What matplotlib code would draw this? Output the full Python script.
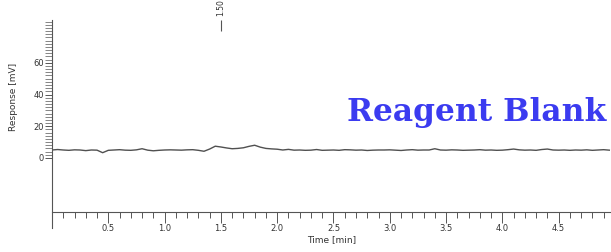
import numpy as np
import matplotlib
matplotlib.use('Agg')
import matplotlib.pyplot as plt
from matplotlib.ticker import MultipleLocator, FixedLocator

# chromatogram trace (0.05 min steps)
time_min = np.arange(0, 100) * 0.05
response_mv = [
    5.0, 5.3, 5.0, 4.8, 5.1, 5.0, 4.6, 5.0, 4.9, 3.3,
    4.8, 5.0, 5.2, 4.9, 4.8, 5.1, 5.8, 4.9, 4.5, 4.8,
    5.0, 5.1, 5.0, 4.9, 5.1, 5.2, 4.8, 4.2, 5.6, 7.4,
    6.9, 6.3, 5.8, 6.0, 6.4, 7.3, 8.0, 6.8, 6.0, 5.7,
    5.5, 5.0, 5.4, 4.9, 5.0, 4.8, 4.9, 5.3, 4.8, 4.9,
    5.0, 4.8, 5.2, 5.1, 4.9, 5.0, 4.7, 4.9, 5.0, 5.0,
    5.1, 4.9, 4.7, 5.0, 5.2, 4.9, 5.0, 5.0, 5.8, 5.0,
    4.9, 5.1, 5.0, 4.8, 4.9, 5.0, 5.2, 4.9, 5.0, 4.8,
    4.9, 5.2, 5.6, 5.1, 4.9, 5.0, 4.8, 5.3, 5.6, 5.0,
    4.9, 5.0, 4.8, 5.0, 4.9, 5.1, 4.8, 5.0, 5.2, 4.9,
]
peak_times = [1.50]
peak_labels = ['1.50']
x_ticks = [0.5, 1.0, 1.5, 2.0, 2.5, 3.0, 3.5, 4.0, 4.5]
y_ticks = [0, 20, 40, 60]

W, H = 611, 252
fig = plt.figure(figsize=(W / 100, H / 100), dpi=100)
# axes box in pixels: left 52, right 611, top 20, bottom 228
ax = fig.add_axes([52 / W, 1 - 228 / H, (611 - 52) / W, (228 - 20) / H])
ax.set_xlim(0, 4.965)
ax.set_ylim(-44.2, 87)
ax.patch.set_alpha(0)

grey = '#555555'
ax.plot(time_min, response_mv, color='#505050', lw=1.0)

# peak marker
ax.vlines(peak_times, 80, 87, color=grey, lw=0.8)
for t, lab in zip(peak_times, peak_labels):
    ax.annotate(lab, (t, 87), xytext=(0, 3), textcoords='offset points',
                rotation=90, ha='center', va='bottom', fontsize=5.5, color='#333333')

for s in ['top', 'right']:
    ax.spines[s].set_visible(False)
ax.spines['left'].set_color(grey)
ax.spines['bottom'].set_color(grey)
ax.spines['left'].set_linewidth(0.8)
ax.spines['bottom'].set_linewidth(0.8)
ax.spines['bottom'].set_position(('data', -34.1))

ax.xaxis.set_major_locator(FixedLocator(x_ticks))
ax.xaxis.set_minor_locator(MultipleLocator(0.1))
ax.set_xticklabels([f'{v:.1f}' for v in x_ticks])
ax.yaxis.set_major_locator(FixedLocator(y_ticks))
ax.yaxis.set_minor_locator(FixedLocator(np.arange(0, 87, 2)))
ax.tick_params(axis='x', which='major', direction='out', length=8, width=0.7,
               color=grey, labelsize=6, labelcolor='#333333', pad=1)
ax.tick_params(axis='x', which='minor', direction='out', length=4.5, width=0.7, color=grey)
ax.tick_params(axis='y', which='major', direction='out', length=5, width=0.7,
               color=grey, labelsize=6, labelcolor='#333333', pad=1)
ax.tick_params(axis='y', which='minor', direction='out', length=5, width=0.5, color=grey)

ax.set_xlabel('Time [min]', fontsize=6.5, color='#333333', labelpad=1)
ax.set_ylabel('Response [mV]', fontsize=6.5, color='#333333')
ax.yaxis.set_label_coords(-0.06, 0.63)

fig.text(477 / W, 1 - 112 / H, 'Reagent Blank', fontsize=22.5, fontweight='bold',
         family='DejaVu Serif', color='#3b3bf0', ha='center', va='center')

plt.savefig('out.png', dpi=100)
